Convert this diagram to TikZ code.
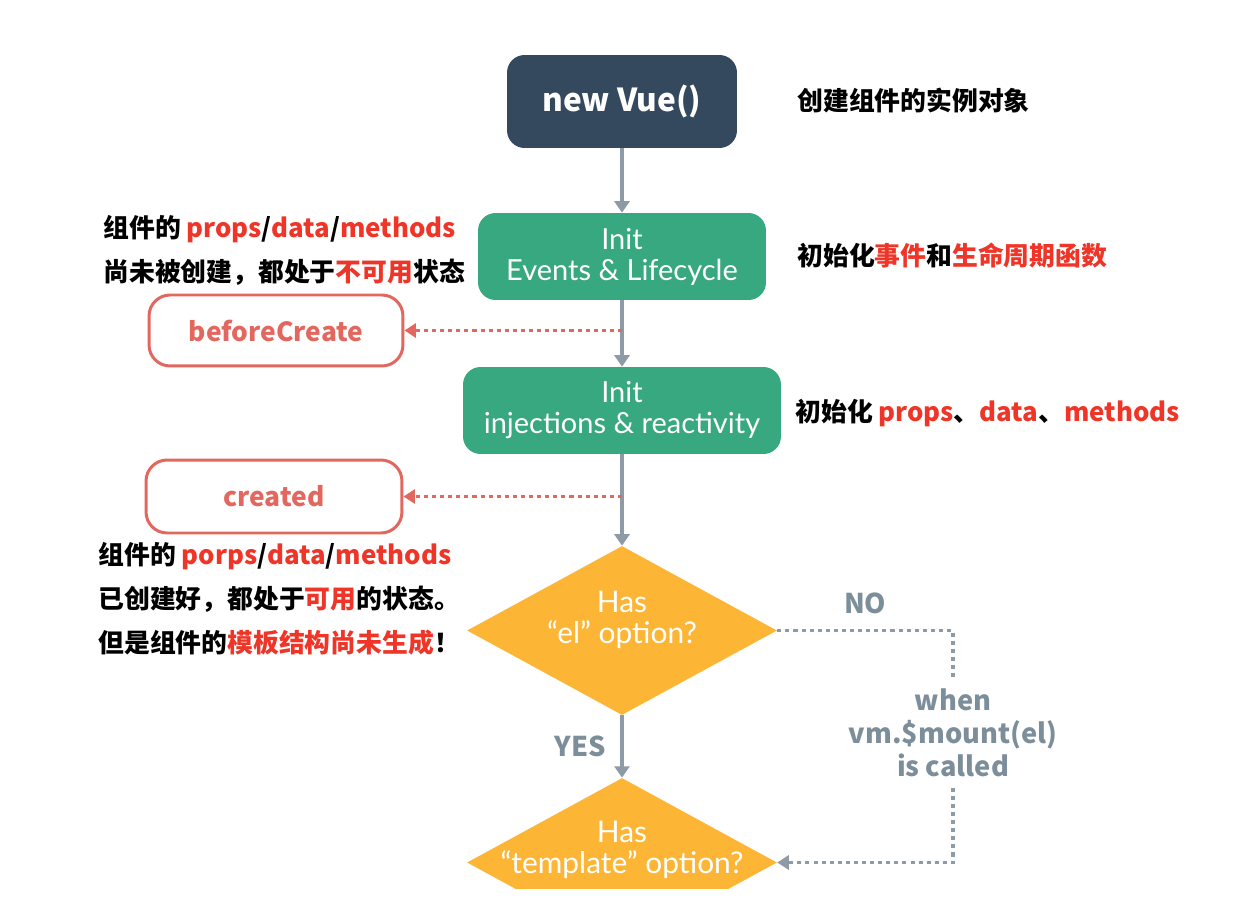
\documentclass[tikz,border=0pt]{standalone}
\usepackage{fontspec}
\setmainfont{Lato}
\newfontfamily\cjk{Noto Sans CJK SC}
\usetikzlibrary{arrows.meta,positioning,shapes.geometric}

\definecolor{vuenavy}{HTML}{35495E}
\definecolor{vuegreen}{HTML}{37A880}
\definecolor{vueorange}{HTML}{FDB535}
\definecolor{hookred}{HTML}{E2675F}
\definecolor{notered}{HTML}{EE3528}
\definecolor{flowgray}{HTML}{8D9BA7}
\definecolor{labgray}{HTML}{7D8E9B}

\newcommand{\hl}[1]{\textcolor{notered}{#1}}

\begin{document}
\begin{tikzpicture}[x=0.02cm, y=-0.02cm,
    flow/.style={->, >={Triangle[length=6.5pt,width=8.5pt]}, line width=2pt, color=flowgray},
    hookline/.style={->, >={Triangle[length=6.5pt,width=8pt]}, line width=2pt, color=hookred, dash pattern=on 2.3pt off 2.3pt},
    mountline/.style={>={Triangle[length=6.5pt,width=8pt]}, line width=2pt, color=flowgray, dash pattern=on 2.3pt off 2.3pt},
    stage/.style={rounded corners=10pt, fill=vuegreen, text=white, align=center, inner sep=0pt, font=\fontsize{16.5}{17.6}\selectfont},
    hookbox/.style={draw=hookred, line width=1.7pt, rounded corners=12pt, fill=white, text=hookred, font=\cjk\bfseries\fontsize{15}{18}\selectfont, minimum width=5.1cm, minimum height=1.44cm},
    decision/.style={diamond, fill=vueorange, minimum width=6.2cm, minimum height=3.38cm, inner sep=0pt},
    dtext/.style={text=white, align=center, font=\fontsize{17}{17.6}\selectfont},
    lab/.style={text=labgray, align=center, font=\cjk\bfseries\fontsize{15.5}{18.7}\selectfont},
    sidenote/.style={anchor=west, align=left, inner sep=0pt, font=\cjk\bfseries\fontsize{14.7}{25}\selectfont}]
    \fill[white] (0,0) rectangle (1237,905);
    \useasboundingbox (0,0) rectangle (1237,905);

    % main column
    \node[stage, fill=vuenavy, minimum width=4.6cm, minimum height=1.86cm, font=\cjk\bfseries\fontsize{18}{20}\selectfont] (vue) at (622,101.5) {new Vue()};
    \node[stage, minimum width=5.76cm, minimum height=1.74cm] (ev) at (622,256.5) {Init\\Events \& Lifecycle};
    \node[stage, minimum width=6.36cm, minimum height=1.74cm] (inj) at (622,410.5) {Init\\injections \& reactivity};
    \node[decision] (el) at (622,630.5) {};
    \node[dtext] at ([yshift=6pt]el.center) {Has\\“el” option?};
    \begin{scope}
        \clip (0,0) rectangle (1237,888);
        \node[decision] (tpl) at (622,862.5) {};
    \end{scope}
    \node[dtext] at ([yshift=7pt]tpl.center) {Has\\“template” option?};

    % hooks
    \node[hookbox, minimum width=5.08cm, minimum height=1.42cm] (bc) at (276,330.5) {beforeCreate};
    \node[hookbox, minimum width=5.12cm, minimum height=1.46cm] (cr) at (274,496.5) {created};

    \draw[flow] (vue) -- (ev);
    \draw[flow] (ev) -- (inj);
    \draw[flow] (inj) -- (el);
    \draw[flow] (el) -- node[lab, left=5pt] (yes) {YES} (tpl);
    \draw[hookline] (ev.south |- bc.east) -- (bc.east);
    \draw[hookline] (inj.south |- cr.east) -- (cr.east);

    % el option missing
    \node[lab, inner ysep=6pt] (when) at (953,733) {when\\vm.\$mount(el)\\is called};
    \draw[mountline] (el.east) -| node[lab, pos=0.25, above=5pt] (no) {NO} (when);
    \draw[mountline, ->] (when) |- (tpl.east);

    % notes
    \node[sidenote] (n1) at (797,100) {创建组件的实例对象};
    \node[sidenote] (n2) at (797,256) {初始化\hl{事件}和\hl{生命周期函数}};
    \node[sidenote] (n3) at (795,413) {初始化 \hl{props}、\hl{data}、\hl{methods}};
    \node[sidenote] (n4) at (103,250.5) {组件的 \hl{props}/\hl{data}/\hl{methods}\\尚未被创建，都处于\hl{不可用}状态};
    \node[sidenote] (n5) at (98,599) {组件的 \hl{porps}/\hl{data}/\hl{methods}\\已创建好，都处于\hl{可用}的状态。\\但是组件的\hl{模板结构尚未生成}！};
\end{tikzpicture}
\end{document}
